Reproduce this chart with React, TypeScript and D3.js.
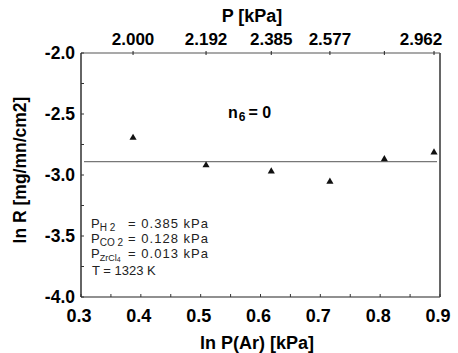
import * as d3 from 'd3';

// ln P(Ar) [kPa] and ln R for each run
const lnPAr = [0.387, 0.509, 0.618, 0.716, 0.807, 0.89];
const lnR = [-2.695, -2.92, -2.97, -3.055, -2.87, -2.815];
// pressure labels on the top axis, one per run (the fifth is not printed)
const topLabels = ['2.000', '2.192', '2.385', '2.577', '', '2.962'];
const xTicks = [0.3, 0.4, 0.5, 0.6, 0.7, 0.8, 0.9];
const yTicks = [-2.0, -2.5, -3.0, -3.5, -4.0];
const fitLevel = -2.89;

const W = 458;
const H = 353;
const SANS = '"Liberation Sans", Arial, Helvetica, sans-serif';

export default function App() {
  const x = d3.scaleLinear().domain([0.3, 0.9]).range([81, 440]);
  const y = d3.scaleLinear().domain([-2, -4]).range([53, 297]);
  const tri = d3.symbol(d3.symbolTriangle, 22)();

  const minorX = d3.range(0.3, 0.9001, 0.05);
  const minorY = d3.range(-2, -4.0001, -0.25);

  return (
    <svg width={W} height={H} style={{ position: 'absolute', left: 0, top: 0, background: '#fff' }}
      fontFamily={SANS}>
      {/* Frame */}
      <line x1={x(0.3)} x2={x(0.9)} y1={y(-2)} y2={y(-2)} stroke="#555" strokeWidth={1.2} />
      <line x1={x(0.3)} x2={x(0.9)} y1={y(-4)} y2={y(-4)} stroke="#222" strokeWidth={1.2} />
      <line x1={x(0.3)} x2={x(0.3)} y1={y(-2)} y2={y(-4)} stroke="#111" strokeWidth={1.3} />
      <line x1={x(0.9)} x2={x(0.9)} y1={y(-2)} y2={y(-4)} stroke="#666" strokeWidth={2} />

      {/* Ticks */}
      {minorX.map(t => (
        <line key={'bx' + t} x1={x(t)} x2={x(t)} y1={y(-4)} y2={y(-4) - 3} stroke="#333" />
      ))}
      {minorY.map(t => (
        <line key={'ly' + t} x1={x(0.3)} x2={x(0.3) + 3} y1={y(t)} y2={y(t)} stroke="#333" />
      ))}
      {lnPAr.map((v, i) => (
        <line key={'tx' + i} x1={x(v)} x2={x(v)} y1={y(-2) - 2} y2={y(-2) + 2} stroke="#222" />
      ))}

      {/* Top axis */}
      <text x={252} y={22} textAnchor="middle" fontSize={18} fontWeight="bold">P [kPa]</text>
      {lnPAr.map((v, i) => (
        <text key={'tl' + i} x={Math.min(x(v), 421)} y={45} textAnchor="middle"
          fontSize={17} fontWeight="bold">{topLabels[i]}</text>
      ))}

      {/* Bottom axis */}
      {xTicks.map(t => (
        <text key={'xl' + t} x={x(t) - 2} y={322} textAnchor="middle" fontSize={18}
          fontWeight="bold">{t.toFixed(1)}</text>
      ))}
      <text x={257} y={349} textAnchor="middle" fontSize={18} fontWeight="bold">ln P(Ar) [kPa]</text>

      {/* Left axis */}
      {yTicks.map(t => (
        <text key={'yl' + t} x={75} y={y(t) + 6} textAnchor="end" fontSize={17.5}
          fontWeight="bold">{t.toFixed(1)}</text>
      ))}
      <text transform="translate(26,170) rotate(-90)" textAnchor="middle" fontSize={17.5}
        fontWeight="bold">ln R [mg/mn/cm2]</text>

      {/* Fit line */}
      <line x1={x(0.305)} x2={x(0.895)} y1={y(fitLevel)} y2={y(fitLevel)} stroke="#777" strokeWidth={1.2} />

      {/* Data */}
      {lnPAr.map((v, i) => (
        <path key={'p' + i} d={tri ?? ''} transform={`translate(${x(v)},${y(lnR[i])})`} fill="#111" />
      ))}

      {/* n6 annotation */}
      <text x={228} y={118} fontSize={16} fontWeight="bold">
        n<tspan fontSize={12} dy={3} dx={1}>6</tspan><tspan dy={-3} dx={3}>= 0</tspan>
      </text>

      {/* Conditions */}
      <g fontSize={13} fill="#222">
        <text x={91} y={228}>P<tspan fontSize={10} dy={3}>H 2</tspan></text>
        <text x={128} y={228} textLength={80}>= 0.385 kPa</text>
        <text x={91} y={243}>P<tspan fontSize={10} dy={3}>CO 2</tspan></text>
        <text x={128} y={243} textLength={80}>= 0.128 kPa</text>
        <text x={91} y={258}>P<tspan fontSize={9} dy={3}>ZrCl</tspan><tspan fontSize={7} dy={1}>4</tspan></text>
        <text x={128} y={258} textLength={80}>= 0.013 kPa</text>
        <text x={92} y={275}>T = 1323 K</text>
      </g>
    </svg>
  );
}
